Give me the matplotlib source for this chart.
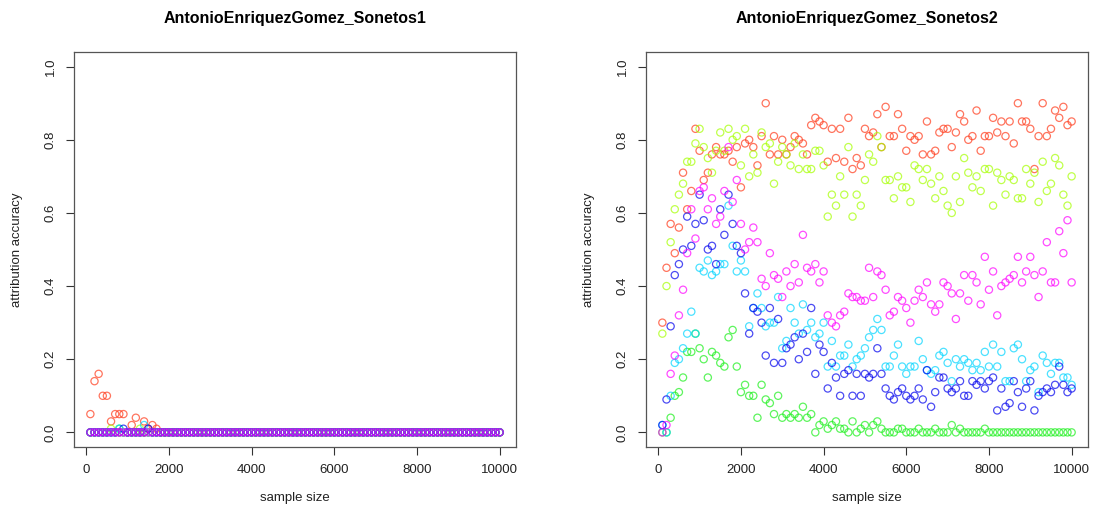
import matplotlib
matplotlib.use('Agg')
import matplotlib.pyplot as plt
import numpy as np

plt.rcParams['font.family'] = ['Liberation Sans', 'DejaVu Sans']

# sample sizes: 100, 200, ..., 10000
sample_size = list(range(100, 10001, 100))

titles = ['AntonioEnriquezGomez_Sonetos1', 'AntonioEnriquezGomez_Sonetos2']
series_colors = ['#FF3A1A', '#A6FF00', '#1AF01A', '#00D5FF', '#0000EE', '#FF00FF']

# ---- Sonetos1 ----
s1_red = [0.05, 0.14, 0.16, 0.10, 0.10, 0.03, 0.05, 0.05, 0.05, 0.00, 0.02, 0.04, 0.00, 0.03, 0.01, 0.02, 0.01, 0.00, 0.00, 0.00,
          0.00, 0.00, 0.00, 0.00, 0.00, 0.00, 0.00, 0.00, 0.00, 0.00, 0.00, 0.00, 0.00, 0.00, 0.00, 0.00, 0.00, 0.00, 0.00, 0.00,
          0.00, 0.00, 0.00, 0.00, 0.00, 0.00, 0.00, 0.00, 0.00, 0.00, 0.00, 0.00, 0.00, 0.00, 0.00, 0.00, 0.00, 0.00, 0.00, 0.00,
          0.00, 0.00, 0.00, 0.00, 0.00, 0.00, 0.00, 0.00, 0.00, 0.00, 0.00, 0.00, 0.00, 0.00, 0.00, 0.00, 0.00, 0.00, 0.00, 0.00,
          0.00, 0.00, 0.00, 0.00, 0.00, 0.00, 0.00, 0.00, 0.00, 0.00, 0.00, 0.00, 0.00, 0.00, 0.00, 0.00, 0.00, 0.00, 0.00, 0.00]
s1_yellow = [0.00, 0.00, 0.00, 0.00, 0.00, 0.01, 0.00, 0.00, 0.00, 0.00, 0.00, 0.00, 0.01, 0.00, 0.00, 0.00, 0.00, 0.00, 0.00, 0.00,
             0.00, 0.00, 0.00, 0.00, 0.00, 0.00, 0.00, 0.00, 0.00, 0.00, 0.00, 0.00, 0.00, 0.00, 0.00, 0.00, 0.00, 0.00, 0.00, 0.00,
             0.00, 0.00, 0.00, 0.00, 0.00, 0.00, 0.00, 0.00, 0.00, 0.00, 0.00, 0.00, 0.00, 0.00, 0.00, 0.00, 0.00, 0.00, 0.00, 0.00,
             0.00, 0.00, 0.00, 0.00, 0.00, 0.00, 0.00, 0.00, 0.00, 0.00, 0.00, 0.00, 0.00, 0.00, 0.00, 0.00, 0.00, 0.00, 0.00, 0.00,
             0.00, 0.00, 0.00, 0.00, 0.00, 0.00, 0.00, 0.00, 0.00, 0.00, 0.00, 0.00, 0.00, 0.00, 0.00, 0.00, 0.00, 0.00, 0.00, 0.00]
s1_green = [0.00, 0.00, 0.00, 0.00, 0.00, 0.00, 0.00, 0.01, 0.00, 0.00, 0.00, 0.00, 0.00, 0.00, 0.00, 0.00, 0.00, 0.00, 0.00, 0.00,
            0.00, 0.00, 0.00, 0.00, 0.00, 0.00, 0.00, 0.00, 0.00, 0.00, 0.00, 0.00, 0.00, 0.00, 0.00, 0.00, 0.00, 0.00, 0.00, 0.00,
            0.00, 0.00, 0.00, 0.00, 0.00, 0.00, 0.00, 0.00, 0.00, 0.00, 0.00, 0.00, 0.00, 0.00, 0.00, 0.00, 0.00, 0.00, 0.00, 0.00,
            0.00, 0.00, 0.00, 0.00, 0.00, 0.00, 0.00, 0.00, 0.00, 0.00, 0.00, 0.00, 0.00, 0.00, 0.00, 0.00, 0.00, 0.00, 0.00, 0.00,
            0.00, 0.00, 0.00, 0.00, 0.00, 0.00, 0.00, 0.00, 0.00, 0.00, 0.00, 0.00, 0.00, 0.00, 0.00, 0.00, 0.00, 0.00, 0.00, 0.00]
s1_cyan = [0.00, 0.00, 0.00, 0.00, 0.00, 0.00, 0.00, 0.01, 0.00, 0.00, 0.00, 0.00, 0.00, 0.02, 0.00, 0.00, 0.00, 0.00, 0.00, 0.00,
           0.00, 0.00, 0.00, 0.00, 0.00, 0.00, 0.00, 0.00, 0.00, 0.00, 0.00, 0.00, 0.00, 0.00, 0.00, 0.00, 0.00, 0.00, 0.00, 0.00,
           0.00, 0.00, 0.00, 0.00, 0.00, 0.00, 0.00, 0.00, 0.00, 0.00, 0.00, 0.00, 0.00, 0.00, 0.00, 0.00, 0.00, 0.00, 0.00, 0.00,
           0.00, 0.00, 0.00, 0.00, 0.00, 0.00, 0.00, 0.00, 0.00, 0.00, 0.00, 0.00, 0.00, 0.00, 0.00, 0.00, 0.00, 0.00, 0.00, 0.00,
           0.00, 0.00, 0.00, 0.00, 0.00, 0.00, 0.00, 0.00, 0.00, 0.00, 0.00, 0.00, 0.00, 0.00, 0.00, 0.00, 0.00, 0.00, 0.00, 0.00]
s1_blue = [0.00, 0.00, 0.00, 0.00, 0.00, 0.00, 0.00, 0.00, 0.01, 0.00, 0.00, 0.00, 0.00, 0.00, 0.01, 0.00, 0.00, 0.00, 0.00, 0.00,
           0.00, 0.00, 0.00, 0.00, 0.00, 0.00, 0.00, 0.00, 0.00, 0.00, 0.00, 0.00, 0.00, 0.00, 0.00, 0.00, 0.00, 0.00, 0.00, 0.00,
           0.00, 0.00, 0.00, 0.00, 0.00, 0.00, 0.00, 0.00, 0.00, 0.00, 0.00, 0.00, 0.00, 0.00, 0.00, 0.00, 0.00, 0.00, 0.00, 0.00,
           0.00, 0.00, 0.00, 0.00, 0.00, 0.00, 0.00, 0.00, 0.00, 0.00, 0.00, 0.00, 0.00, 0.00, 0.00, 0.00, 0.00, 0.00, 0.00, 0.00,
           0.00, 0.00, 0.00, 0.00, 0.00, 0.00, 0.00, 0.00, 0.00, 0.00, 0.00, 0.00, 0.00, 0.00, 0.00, 0.00, 0.00, 0.00, 0.00, 0.00]
s1_magenta = [0.00, 0.00, 0.00, 0.00, 0.00, 0.00, 0.00, 0.00, 0.00, 0.00, 0.00, 0.00, 0.00, 0.00, 0.00, 0.00, 0.00, 0.00, 0.00, 0.00,
              0.00, 0.00, 0.00, 0.00, 0.00, 0.00, 0.00, 0.00, 0.00, 0.00, 0.00, 0.00, 0.00, 0.00, 0.00, 0.00, 0.00, 0.00, 0.00, 0.00,
              0.00, 0.00, 0.00, 0.00, 0.00, 0.00, 0.00, 0.00, 0.00, 0.00, 0.00, 0.00, 0.00, 0.00, 0.00, 0.00, 0.00, 0.00, 0.00, 0.00,
              0.00, 0.00, 0.00, 0.00, 0.00, 0.00, 0.00, 0.00, 0.00, 0.00, 0.00, 0.00, 0.00, 0.00, 0.00, 0.00, 0.00, 0.00, 0.00, 0.00,
              0.00, 0.00, 0.00, 0.00, 0.00, 0.00, 0.00, 0.00, 0.00, 0.00, 0.00, 0.00, 0.00, 0.00, 0.00, 0.00, 0.00, 0.00, 0.00, 0.00]

# ---- Sonetos2 ----
s2_red = [0.30, 0.45, 0.57, 0.49, 0.56, 0.71, 0.61, 0.66, 0.83, 0.77, 0.69, 0.71, 0.76, 0.78, 0.76, 0.76, 0.77, 0.74, 0.78, 0.67,
          0.79, 0.80, 0.78, 0.73, 0.81, 0.90, 0.76, 0.81, 0.76, 0.80, 0.76, 0.78, 0.81, 0.80, 0.79, 0.76, 0.84, 0.86, 0.85, 0.84,
          0.74, 0.83, 0.75, 0.83, 0.74, 0.86, 0.72, 0.75, 0.73, 0.83, 0.81, 0.82, 0.87, 0.78, 0.89, 0.81, 0.81, 0.87, 0.83, 0.77,
          0.81, 0.80, 0.81, 0.76, 0.85, 0.76, 0.77, 0.82, 0.83, 0.83, 0.78, 0.82, 0.87, 0.85, 0.80, 0.81, 0.88, 0.77, 0.81, 0.81,
          0.86, 0.82, 0.85, 0.81, 0.85, 0.79, 0.90, 0.85, 0.85, 0.83, 0.72, 0.81, 0.90, 0.81, 0.83, 0.88, 0.86, 0.89, 0.84, 0.85]
s2_yellow = [0.27, 0.40, 0.52, 0.61, 0.65, 0.68, 0.74, 0.74, 0.79, 0.83, 0.78, 0.75, 0.71, 0.77, 0.82, 0.77, 0.83, 0.80, 0.81, 0.73,
             0.83, 0.70, 0.76, 0.71, 0.82, 0.78, 0.79, 0.68, 0.74, 0.78, 0.76, 0.73, 0.79, 0.72, 0.76, 0.72, 0.72, 0.77, 0.77, 0.73,
             0.59, 0.65, 0.62, 0.70, 0.65, 0.78, 0.59, 0.65, 0.62, 0.69, 0.76, 0.74, 0.81, 0.78, 0.69, 0.69, 0.64, 0.70, 0.67, 0.67,
             0.63, 0.73, 0.72, 0.69, 0.72, 0.68, 0.64, 0.70, 0.66, 0.62, 0.60, 0.70, 0.63, 0.75, 0.71, 0.67, 0.70, 0.66, 0.72, 0.72,
             0.62, 0.71, 0.69, 0.65, 0.70, 0.69, 0.64, 0.64, 0.72, 0.68, 0.71, 0.63, 0.74, 0.66, 0.68, 0.75, 0.73, 0.65, 0.62, 0.70]
s2_green = [0.00, 0.00, 0.04, 0.10, 0.11, 0.15, 0.22, 0.22, 0.27, 0.23, 0.20, 0.15, 0.22, 0.21, 0.19, 0.18, 0.26, 0.28, 0.18, 0.11,
            0.13, 0.10, 0.10, 0.04, 0.13, 0.09, 0.08, 0.05, 0.10, 0.04, 0.05, 0.04, 0.05, 0.04, 0.07, 0.04, 0.05, 0.00, 0.02, 0.03,
            0.01, 0.02, 0.03, 0.01, 0.01, 0.00, 0.03, 0.00, 0.01, 0.02, 0.00, 0.02, 0.03, 0.01, 0.00, 0.00, 0.00, 0.01, 0.01, 0.00,
            0.00, 0.00, 0.01, 0.00, 0.00, 0.00, 0.01, 0.00, 0.00, 0.00, 0.02, 0.00, 0.01, 0.00, 0.00, 0.00, 0.00, 0.00, 0.01, 0.00,
            0.00, 0.00, 0.00, 0.00, 0.00, 0.00, 0.00, 0.00, 0.00, 0.00, 0.00, 0.00, 0.00, 0.00, 0.00, 0.00, 0.00, 0.00, 0.00, 0.00]
s2_cyan = [0.02, 0.00, 0.10, 0.19, 0.20, 0.23, 0.27, 0.33, 0.27, 0.45, 0.44, 0.47, 0.43, 0.44, 0.46, 0.46, 0.62, 0.51, 0.44, 0.47,
           0.44, 0.29, 0.34, 0.38, 0.34, 0.29, 0.30, 0.30, 0.37, 0.23, 0.25, 0.34, 0.30, 0.27, 0.35, 0.28, 0.30, 0.26, 0.27, 0.30,
           0.18, 0.25, 0.18, 0.21, 0.21, 0.24, 0.18, 0.20, 0.21, 0.23, 0.26, 0.28, 0.31, 0.28, 0.18, 0.18, 0.21, 0.24, 0.18, 0.16,
           0.18, 0.18, 0.25, 0.20, 0.17, 0.16, 0.17, 0.21, 0.22, 0.19, 0.14, 0.20, 0.18, 0.20, 0.19, 0.17, 0.19, 0.17, 0.22, 0.18,
           0.24, 0.18, 0.22, 0.14, 0.14, 0.23, 0.24, 0.20, 0.14, 0.17, 0.18, 0.11, 0.21, 0.19, 0.16, 0.19, 0.19, 0.15, 0.15, 0.13]
s2_blue = [0.02, 0.09, 0.29, 0.43, 0.46, 0.50, 0.59, 0.51, 0.57, 0.65, 0.58, 0.50, 0.51, 0.46, 0.61, 0.54, 0.65, 0.57, 0.51, 0.49,
           0.38, 0.27, 0.34, 0.33, 0.30, 0.21, 0.34, 0.19, 0.31, 0.19, 0.23, 0.24, 0.26, 0.20, 0.27, 0.22, 0.34, 0.16, 0.24, 0.22,
           0.12, 0.19, 0.15, 0.10, 0.16, 0.17, 0.10, 0.16, 0.10, 0.16, 0.15, 0.16, 0.23, 0.16, 0.12, 0.10, 0.09, 0.11, 0.12, 0.10,
           0.09, 0.10, 0.12, 0.09, 0.17, 0.07, 0.11, 0.15, 0.15, 0.12, 0.11, 0.12, 0.14, 0.10, 0.10, 0.14, 0.13, 0.14, 0.12, 0.14,
           0.15, 0.06, 0.12, 0.07, 0.08, 0.14, 0.11, 0.07, 0.12, 0.14, 0.06, 0.10, 0.11, 0.12, 0.11, 0.13, 0.18, 0.13, 0.11, 0.12]
s2_magenta = [0.00, 0.02, 0.16, 0.21, 0.32, 0.39, 0.49, 0.61, 0.53, 0.66, 0.67, 0.61, 0.64, 0.57, 0.59, 0.66, 0.78, 0.63, 0.69, 0.57,
              0.50, 0.52, 0.56, 0.52, 0.42, 0.40, 0.49, 0.43, 0.42, 0.37, 0.44, 0.40, 0.46, 0.41, 0.54, 0.45, 0.44, 0.46, 0.41, 0.44,
              0.32, 0.30, 0.29, 0.32, 0.33, 0.38, 0.37, 0.37, 0.36, 0.36, 0.45, 0.37, 0.44, 0.43, 0.39, 0.32, 0.33, 0.37, 0.36, 0.34,
              0.30, 0.36, 0.39, 0.37, 0.41, 0.35, 0.33, 0.35, 0.41, 0.40, 0.38, 0.31, 0.38, 0.43, 0.36, 0.43, 0.41, 0.35, 0.48, 0.39,
              0.44, 0.32, 0.40, 0.41, 0.42, 0.43, 0.48, 0.41, 0.44, 0.48, 0.43, 0.37, 0.44, 0.52, 0.41, 0.41, 0.55, 0.49, 0.58, 0.41]

panels = [
    [s1_red, s1_yellow, s1_green, s1_cyan, s1_blue, s1_magenta],
    [s2_red, s2_yellow, s2_green, s2_cyan, s2_blue, s2_magenta],
]

fig = plt.figure(figsize=(10.93, 5.13), dpi=100)
fig.patch.set_facecolor('white')

# axes boxes in pixels (left, top, right, bottom) measured on the reference
W, H = 1093.0, 513.0
boxes = [(74, 52, 516, 447), (646, 52, 1088, 447)]

for k, (series, title) in enumerate(zip(panels, titles)):
    l, t, r, b = boxes[k]
    ax = fig.add_axes([l / W, 1 - b / H, (r - l) / W, (b - t) / H])
    for vals, col in zip(series, series_colors):
        ax.scatter(sample_size, vals, s=27, facecolors='none', edgecolors=col,
                   linewidths=0.9, alpha=0.7, zorder=3)
    # R style ranges (4% padding)
    ax.set_xlim(-296, 10396)
    ax.set_ylim(-0.04, 1.04)
    ax.set_xticks([0, 2000, 4000, 6000, 8000, 10000])
    ax.set_yticks([0.0, 0.2, 0.4, 0.6, 0.8, 1.0])
    ax.set_yticklabels(['0.0', '0.2', '0.4', '0.6', '0.8', '1.0'], rotation=90, va='center')
    ax.tick_params(direction='out', length=5.5, width=0.8, color='#333333',
                   labelsize=9.5, labelcolor='#222222')
    ax.tick_params(axis='x', pad=7)
    ax.tick_params(axis='y', pad=7)
    for sp in ax.spines.values():
        sp.set_color('#555555')
        sp.set_linewidth(0.9)
    ax.text(0.5, 1.086, title, transform=ax.transAxes, ha='center', va='center',
            fontsize=11.5, fontweight='bold')
    ax.text(0.5, -0.128, 'sample size', transform=ax.transAxes, ha='center',
            va='center', fontsize=9.5, color='#222222')
    ax.text(-0.128, 0.5, 'attribution accuracy', transform=ax.transAxes, ha='center',
            va='center', rotation=90, fontsize=9.5, color='#222222')

fig.savefig('out.png', dpi=100, facecolor='white')
